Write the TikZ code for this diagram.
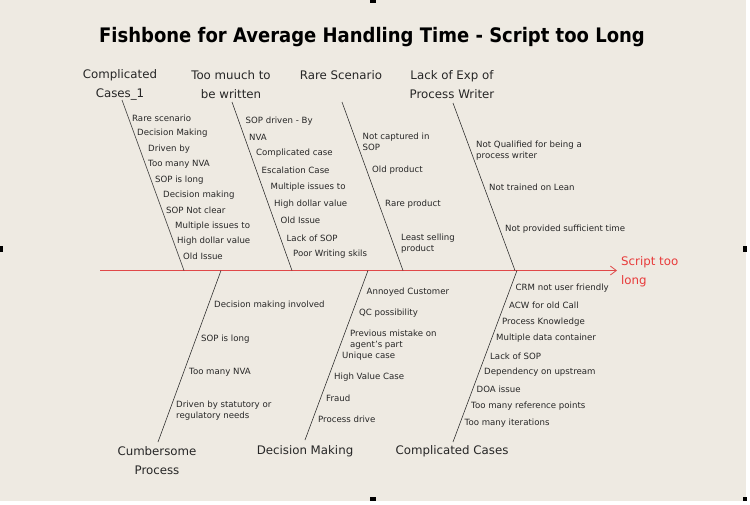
\documentclass[tikz,border=0pt]{standalone}
\usepackage{fontspec}
\setmainfont{DejaVu Sans}
\usetikzlibrary{arrows.meta}
\definecolor{bgc}{HTML}{EEEAE2}
\definecolor{txt}{HTML}{262626}
\definecolor{spinec}{HTML}{E04848}
\definecolor{redtxt}{HTML}{E83A3A}
\newcommand{\itemfont}{\fontsize{8.6}{11}\selectfont}
\newcommand{\catfont}{\fontsize{11.8}{19}\selectfont}
\tikzset{
  item/.style={font=\itemfont, text=txt, inner sep=0pt, anchor=west, align=left},
  cat/.style={font=\catfont, text=txt, inner sep=0pt, align=center},
  bone/.style={draw=txt, line width=0.55pt},
  spine/.style={draw=spinec, line width=0.7pt, -{Straight Barb[length=6pt,width=9pt,line width=0.8pt]}},
  handle/.style={fill=black}
}
\begin{document}
\begin{tikzpicture}[x=1pt,y=-1pt]
\fill[white] (0,0) rectangle (750,504);
\fill[bgc] (0,0) rectangle (746,501);
\useasboundingbox (0,0) rectangle (750,504);
% handles
\fill[handle] (370,0) rectangle (376,3);
\fill[handle] (0,246) rectangle (3,252);
\fill[handle] (743,246) rectangle (747,252);
\fill[handle] (370,497) rectangle (376,501);
\fill[handle] (743,497) rectangle (747,501);
% title
\node[font=\bfseries\fontsize{20}{23}\selectfont, text=black, inner sep=0pt] (title) at (372,37) {\scalebox{0.9}[1]{Fishbone for Average Handling Time - Script too Long}};
% spine
\coordinate (s0) at (100,270.5);
\coordinate (s1) at (617,270.5);
\draw[spine] (s0) -- (s1);
\node[font=\fontsize{11.8}{19}\selectfont, text=redtxt, inner sep=0pt, align=left, anchor=west] (effect) at (621,272) {Script too\\long};
% top bones
\coordinate (t1a) at (122,100); \coordinate (t1b) at (184,270.5);
\coordinate (t2a) at (232,102); \coordinate (t2b) at (292,270.5);
\coordinate (t3a) at (342,102); \coordinate (t3b) at (403,270.5);
\coordinate (t4a) at (453,103); \coordinate (t4b) at (515,270.5);
\draw[bone] (t1a) -- (t1b);
\draw[bone] (t2a) -- (t2b);
\draw[bone] (t3a) -- (t3b);
\draw[bone] (t4a) -- (t4b);
% bottom bones
\coordinate (d1a) at (221,270.5); \coordinate (d1b) at (158,442);
\coordinate (d2a) at (368,270.5); \coordinate (d2b) at (305,440);
\coordinate (d3a) at (517,270.5); \coordinate (d3b) at (453,442);
\draw[bone] (d1a) -- (d1b);
\draw[bone] (d2a) -- (d2b);
\draw[bone] (d3a) -- (d3b);
% category labels
\node[cat] (c1) at (120,84.5) {Complicated\\Cases\_1};
\node[cat] (c2) at (231,84.5) {Too muuch to\\be written};
\node[cat] (c3) at (341,75) {Rare Scenario};
\node[cat] (c4) at (452,84.5) {Lack of Exp of\\Process Writer};
\node[cat] (c5) at (157,460.5) {Cumbersome\\Process};
\node[cat] (c6) at (305,451) {Decision Making};
\node[cat] (c7) at (452,451) {Complicated Cases};
% items: Complicated Cases_1
\node[item] (a1) at (132,118.5) {Rare scenario};
\node[item] (a2) at (137,133) {Decision Making};
\node[item] (a3) at (148,149) {Driven by};
\node[item] (a4) at (148,164.5) {Too many NVA};
\node[item] (a5) at (155,180) {SOP is long};
\node[item] (a6) at (163,195) {Decision making};
\node[item] (a7) at (166,210) {SOP Not clear};
\node[item] (a8) at (175,226) {Multiple issues to};
\node[item] (a9) at (177,241) {High dollar value};
\node[item] (a10) at (183,256.5) {Old Issue};
% items: Too muuch to be written
\node[item] (b1) at (245.5,121) {SOP driven - By};
\node[item] (b2) at (249,137) {NVA};
\node[item] (b3) at (256,153.5) {Complicated case};
\node[item] (b4) at (261.5,170) {Escalation Case};
\node[item] (b5) at (270.5,187) {Multiple issues to};
\node[item] (b6) at (274,204) {High dollar value};
\node[item] (b7) at (280.5,220.5) {Old Issue};
\node[item] (b8) at (286.5,238) {Lack of SOP};
\node[item] (b9) at (293,254) {Poor Writing skils};
% items: Rare Scenario
\node[item] (r1) at (362.5,141.5) {Not captured in\\SOP};
\node[item] (r2) at (372,170) {Old product};
\node[item] (r3) at (385,204) {Rare product};
\node[item] (r4) at (401,243.5) {Least selling\\product};
% items: Lack of Exp
\node[item] (l1) at (476,150.5) {Not Qualified for being a\\process writer};
\node[item] (l2) at (489,187.5) {Not trained on Lean};
\node[item] (l3) at (505,229) {Not provided sufficient time};
% items: Cumbersome Process
\node[item] (p1) at (214,305.5) {Decision making involved};
\node[item] (p2) at (201,339) {SOP is long};
\node[item] (p3) at (189,372.5) {Too many NVA};
\node[item] (p4) at (176,411) {Driven by statutory or\\regulatory needs};
% items: Decision Making
\node[item] (m1) at (366.5,292.5) {Annoyed Customer};
\node[item] (m2) at (359,313) {QC possibility};
\node[item] (m3) at (350,340) {Previous mistake on\\agent's part};
\node[item] (m4) at (342,356.5) {Unique case};
\node[item] (m5) at (334,377.5) {High Value Case};
\node[item] (m6) at (326,398) {Fraud};
\node[item] (m7) at (318,419) {Process drive};
% items: Complicated Cases
\node[item] (k1) at (515.5,288) {CRM not user friendly};
\node[item] (k2) at (509,305) {ACW for old Call};
\node[item] (k3) at (502,322) {Process Knowledge};
\node[item] (k4) at (496,338.5) {Multiple data container};
\node[item] (k5) at (490,356) {Lack of SOP};
\node[item] (k6) at (484,372.5) {Dependency on upstream};
\node[item] (k7) at (476.5,389.5) {DOA issue};
\node[item] (k8) at (471,406) {Too many reference points};
\node[item] (k9) at (464.5,423) {Too many iterations};
\end{tikzpicture}
\end{document}
